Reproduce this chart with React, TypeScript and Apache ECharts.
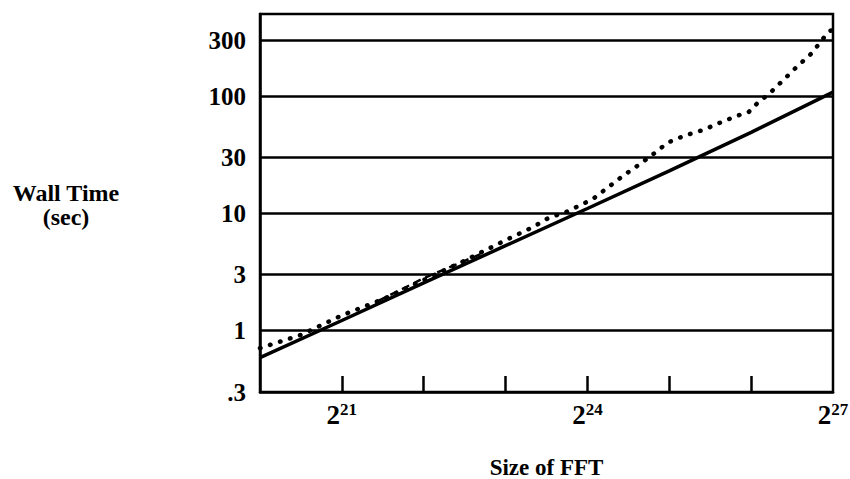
import React, { useEffect, useRef } from "react";
import * as echarts from "echarts";

const FONT = "'Liberation Serif', 'DejaVu Serif', serif";

// Y axis labelled values and horizontal grid lines (seconds)
const yTickValues = [0.3, 1, 3, 10, 30, 100, 300];
const gridValues = [1, 3, 10, 30, 100, 300];
// X axis (exponent of 2 for FFT size)
const xTickExps = [21, 22, 23, 24, 25, 26];
const xLabelExps = [21, 24, 27];

// Solid line
const solidExp = [20, 21, 22, 23, 24, 25, 26, 27];
const solidSec = [0.59, 1.22, 2.55, 5.3, 11, 23, 49, 108];

// Dotted line
const dottedExp = [20, 20.5, 21, 21.5, 22, 22.5, 23, 23.33, 23.52, 23.76, 24.07, 24.44, 24.62, 24.8, 24.98, 25.19, 25.42, 25.65, 25.86, 25.97, 26.07, 26.23, 26.39, 26.56, 26.73, 26.8, 26.94, 27];
const dottedSec = [0.71, 0.92, 1.35, 1.85, 2.7, 3.95, 5.9, 7.6, 9.1, 10.4, 13.3, 21, 25.7, 31.8, 40, 46, 51.5, 60.5, 69, 73, 86, 106, 136, 178, 228, 262, 350, 370];

// Short dashed line
const dashedExp = [21.45, 22.0, 22.7];
const dashedSec = [1.8, 2.8, 4.5];

const pairs = (exps: number[], vals: number[]) => exps.map((e, i) => [Math.pow(2, e), vals[i]]);

export default function App() {
  const ref = useRef<HTMLDivElement>(null);
  useEffect(() => {
    document.body.style.margin = "0";
    if (!ref.current) return;
    const chart = echarts.init(ref.current, null, { renderer: "svg" });
    chart.setOption({
      animation: false,
      backgroundColor: "#fff",
      grid: {
        left: 260,
        right: 17,
        top: 14,
        bottom: 87,
        outerBoundsMode: "none",
        containLabel: false,
        show: true,
        borderColor: "#000",
        borderWidth: 2.5,
      },
      graphic: [
        {
          type: "text",
          x: 66,
          y: 181,
          style: {
            text: "Wall Time\n(sec)",
            textAlign: "center",
            fontFamily: FONT,
            fontWeight: "bold",
            fontSize: 24,
            lineHeight: 24,
            fill: "#000",
          },
        },
      ],
      xAxis: {
        type: "log",
        logBase: 2,
        min: Math.pow(2, 20),
        max: Math.pow(2, 27),
        name: "Size of FFT",
        nameLocation: "middle",
        nameGap: 64,
        nameTextStyle: { fontFamily: FONT, fontWeight: "bold", fontSize: 23, color: "#000" },
        axisLine: { show: true, lineStyle: { color: "#000", width: 2.5 } },
        axisTick: {
          show: true,
          inside: true,
          length: 16,
          lineStyle: { color: "#000", width: 2.5 },
          customValues: xTickExps.map((e) => Math.pow(2, e)),
        },
        axisLabel: {
          customValues: xLabelExps.map((e) => Math.pow(2, e)),
          margin: 9,
          formatter: (v: number) => `{b|2}{s|${Math.round(Math.log2(v))}}`,
          rich: {
            b: { fontFamily: FONT, fontWeight: "bold", fontSize: 27, color: "#000", verticalAlign: "bottom" },
            s: { fontFamily: FONT, fontWeight: "bold", fontSize: 17, color: "#000", verticalAlign: "top" },
          },
        },
        splitLine: { show: false },
      },
      yAxis: {
        type: "log",
        logBase: 10,
        min: 0.3,
        max: 500,
        axisLine: { show: true, lineStyle: { color: "#000", width: 2.5 } },
        axisTick: { show: false },
        axisLabel: {
          customValues: yTickValues,
          margin: 14,
          fontFamily: FONT,
          fontWeight: "bold",
          fontSize: 25,
          color: "#000",
          formatter: (v: number) => (v < 1 ? "." + String(Math.round(v * 10)) : String(Math.round(v))),
        },
        splitLine: { show: false },
      },
      series: [
        {
          type: "line",
          data: pairs(solidExp, solidSec),
          showSymbol: false,
          lineStyle: { color: "#000", width: 3.5 },
          markLine: {
            silent: true,
            symbol: ["none", "none"],
            label: { show: false },
            lineStyle: { color: "#000", width: 2.5, type: "solid" },
            data: gridValues.map((v) => ({ yAxis: v })),
          },
          z: 3,
        },
        {
          type: "line",
          data: pairs(dottedExp, dottedSec),
          showSymbol: false,
          lineStyle: { color: "#000", width: 4.5, type: [0.5, 10], cap: "round" },
          z: 4,
        },
        {
          type: "line",
          data: pairs(dashedExp, dashedSec),
          showSymbol: false,
          lineStyle: { color: "#000", width: 2.5, type: [8, 5] },
          z: 4,
        },
      ],
    });
    return () => chart.dispose();
  }, []);
  return <div ref={ref} style={{ width: 850, height: 479 }} />;
}
